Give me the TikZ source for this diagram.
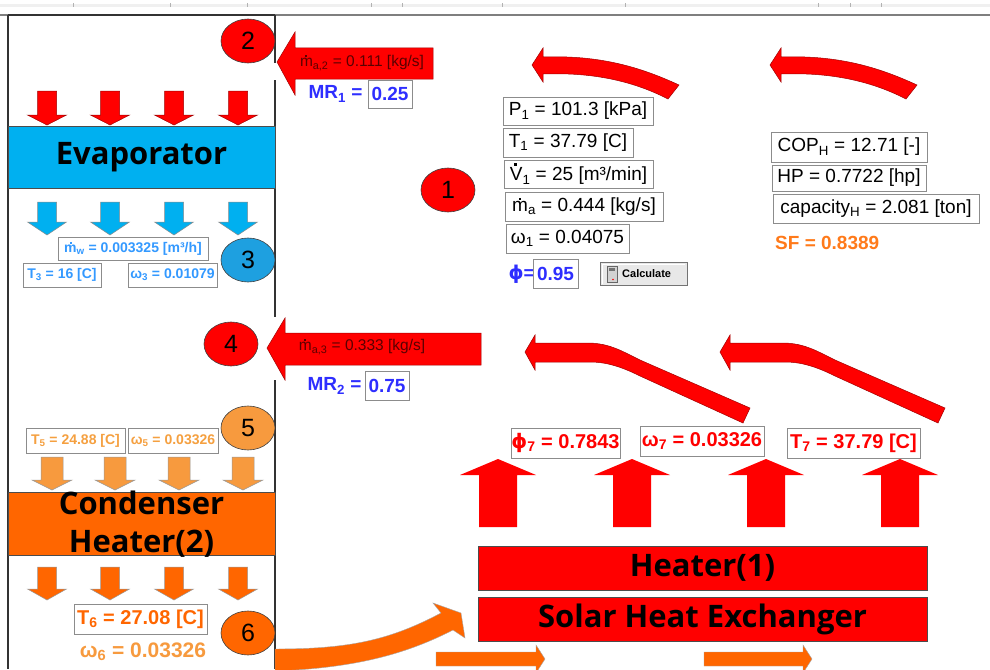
\documentclass[tikz,border=0pt]{standalone}
\usepackage{fontspec}
\setmainfont{Liberation Sans}
\newfontfamily\osans{Open Sans}
\newfontfamily\djv{DejaVu Sans}
\usetikzlibrary{shapes.geometric}
\definecolor{cred}{HTML}{FF0000}
\definecolor{redline}{HTML}{A00000}
\definecolor{ccyan}{HTML}{00B0F0}
\definecolor{cblue3}{HTML}{1EA0E0}
\definecolor{lorange}{HTML}{F79A3E}
\definecolor{lotext}{HTML}{F5A040}
\definecolor{dorange}{HTML}{FF6600}
\definecolor{sforange}{HTML}{FF7A1A}
\definecolor{lblue}{HTML}{3399FF}
\definecolor{mrblue}{HTML}{2E2EFF}
\definecolor{darkred}{HTML}{5A0000}
\definecolor{framegray}{HTML}{7F7F7F}
\definecolor{boxgray}{HTML}{8C8C8C}
\newcommand\mdot{m\llap{\raisebox{0.6em}{\rule{0.13em}{0.13em}}\kern0.35em}}
\newcommand\Vdot{V\llap{\raisebox{0.8em}{\rule{0.13em}{0.13em}}\kern0.31em}}
\begin{document}
\begin{tikzpicture}[x=1pt,y=-1pt,
  numcirc/.style={ellipse, draw=black!75, line width=0.6pt, minimum width=54pt, minimum height=44pt, inner sep=0pt, font=\fontsize{25}{25}\selectfont},
  vbox/.style={draw=boxgray, line width=0.9pt, fill=white, inner sep=0pt, font=\fontsize{19}{19}\selectfont},
  sbox/.style={draw=boxgray, line width=0.8pt, fill=white, inner sep=0pt, font=\bfseries\fontsize{14}{14}\selectfont},
  rbox/.style={draw=boxgray, line width=0.8pt, fill=white, inner sep=0pt, text=cred, font=\bfseries\fontsize{20}{20}\selectfont},
  band/.style={draw=black!70, line width=0.6pt, inner sep=0pt, font=\osans\bfseries\fontsize{31}{31}\selectfont},
  rarr/.style={fill=cred, draw=redline, line width=0.5pt},
  arrlab/.style={font=\fontsize{15.5}{15.5}\selectfont, text=darkred},
  mrlab/.style={anchor=west, font=\bfseries\fontsize{19}{19}\selectfont, text=mrblue}]
\useasboundingbox (0,0) rectangle (990,669);
\clip (0,0) rectangle (990,669);
\fill[white] (0,0) rectangle (990,669);
% spreadsheet header strip
\fill[gray!12] (0,4) rectangle (990,7);
\foreach \tx in {73,170,247,371,402,502,625,818,850,881}
  \draw[gray!60, line width=0.6pt] (\tx,3.5) -- (\tx,7.5);
\draw[framegray, line width=2pt] (0,15) -- (990,15);
% left frame
\draw[black!80, line width=1.2pt] (8,15) -- (275,15);
\draw[black!80, line width=1.2pt] (8,15) -- (8,669);
\draw[black!80, line width=1.2pt] (275,15) -- (275,63);
\draw[black!80, line width=1.2pt] (275,80) -- (275,317);
\draw[black!80, line width=1.2pt] (275,380) -- (275,669);

% evaporator
\foreach \cx in {47,110,174,238}
  \filldraw[rarr] ({\cx-9.5},91) -- ({\cx+9.5},91) -- ({\cx+9.5},115) -- ({\cx+19.5},115) -- (\cx,125) -- ({\cx-19.5},115) -- ({\cx-9.5},115) -- cycle;
\node[band, fill=ccyan, minimum width=267pt, minimum height=62pt] (evap) at (141.5,157) {Evaporator};
\foreach \cx in {47,110,174,238}
  \filldraw[fill=ccyan, draw=black!45, line width=0.5pt] ({\cx-9.5},202) -- ({\cx+9.5},202) -- ({\cx+9.5},222) -- ({\cx+19.5},222) -- (\cx,235) -- ({\cx-19.5},222) -- ({\cx-9.5},222) -- cycle;
\node[sbox, text=lblue, minimum width=150pt, minimum height=23pt] (mw) at (133,248.5) {\mdot\textsubscript{w} = 0.003325 [m³/h]};
\node[sbox, text=lblue, minimum width=78pt, minimum height=24pt] (t3) at (62,275) {T\textsubscript{3} = 16 [C]};
\node[sbox, text=lblue, minimum width=89pt, minimum height=24pt] (w3) at (172.5,275) {ω\textsubscript{3} = 0.01079};
\node[numcirc, fill=cblue3] (c3) at (248,260) {3};

% circle 2 and arrow 2
\node[numcirc, fill=cred] (c2) at (248,41) {2};
\filldraw[rarr] (277,62) -- (295,32) -- (295,48) -- (433,48) -- (433,79) -- (295,79) -- (295,95) -- cycle;
\node[arrlab] (lab2) at (362,63) {\mdot\textsubscript{a,2} = 0.111 [kg/s]};
\node[mrlab] (mr1) at (305,94) {MR\textsubscript{1} =};
\node[vbox, minimum width=44pt, minimum height=28pt, text=mrblue, font=\bfseries\fontsize{19}{19}\selectfont] (mr1v) at (390,94) {0.25};

% circle 1
\node[numcirc, fill=cred] (c1) at (448,190) {1};

% upper curved arrows
\foreach \sx in {0,238}
  \filldraw[rarr] ({532+\sx},65) -- ({543+\sx},48) -- ({543+\sx},57) .. controls ({600+\sx},55) and ({640+\sx},67) .. ({679+\sx},85) -- ({668+\sx},99) .. controls ({635+\sx},82) and ({595+\sx},72) .. ({543+\sx},74) -- ({543+\sx},82) -- cycle;

% state 1 boxes
\node[vbox, minimum width=150pt, minimum height=28pt] (p1) at (578,111) {P\textsubscript{1} = 101.3 [kPa]};
\node[vbox, minimum width=130pt, minimum height=29pt] (t1) at (568,142.5) {T\textsubscript{1} = 37.79 [C]};
\node[vbox, minimum width=149pt, minimum height=28pt] (v1) at (578.5,174) {\Vdot\textsubscript{1} = 25 [m³/min]};
\node[vbox, minimum width=158pt, minimum height=29pt] (ma) at (584,206.5) {\mdot\textsubscript{a} = 0.444 [kg/s]};
\node[vbox, minimum width=123pt, minimum height=29pt] (w1) at (567.5,238.5) {ω\textsubscript{1} = 0.04075};
\node[anchor=west, font=\bfseries\fontsize{19}{19}\selectfont, text=mrblue] (phil) at (505,274) {{\djv\bfseries ϕ}=};
\node[vbox, minimum width=45pt, minimum height=29pt, text=mrblue, font=\bfseries\fontsize{19}{19}\selectfont] (phiv) at (555.5,273.5) {0.95};
% calculate button
\node[draw=black!55, fill=gray!18, line width=0.8pt, minimum width=87pt, minimum height=23pt, inner sep=0pt] (calc) at (643.5,273.5) {};
\draw[white, line width=0.8pt] (602,284) -- (602,264) -- (685,264);
\draw[fill=gray!35, draw=black!60, line width=0.5pt] (607,266) rectangle (617,282);
\fill[black!55] (609,268) rectangle (615,271);
\fill[red] (613,279.5) circle (0.9);
\node[anchor=west, font=\bfseries\fontsize{11}{11}\selectfont, inner sep=0pt] (calct) at (622,274) {Calculate};

% right column
\node[vbox, minimum width=156pt, minimum height=30pt] (cop) at (849,147) {COP\textsubscript{H} = 12.71 [-]};
\node[vbox, minimum width=154pt, minimum height=26pt] (hp) at (849,178) {HP = 0.7722 [hp]};
\node[vbox, minimum width=206pt, minimum height=29pt] (cap) at (876,208.5) {capacity\textsubscript{H} = 2.081 [ton]};
\node[anchor=west, inner sep=0pt, font=\bfseries\fontsize{19}{19}\selectfont, text=sforange] (sf) at (775,243) {SF = 0.8389};

% circle 4 and arrow 4
\node[numcirc, fill=cred] (c4) at (231,344) {4};
\filldraw[rarr] (267,348) -- (285,318) -- (285,333) -- (481,333) -- (481,365) -- (285,365) -- (285,380) -- cycle;
\node[arrlab] (lab4) at (362,347) {\mdot\textsubscript{a,3} = 0.333 [kg/s]};
\node[mrlab] (mr2) at (304,386) {MR\textsubscript{2} =};
\node[vbox, minimum width=44pt, minimum height=29pt, text=mrblue, font=\bfseries\fontsize{19}{19}\selectfont] (mr2v) at (387,385.5) {0.75};

% lower curved arrows
\foreach \sx in {0,195}
  \filldraw[rarr] ({525+\sx},352) -- ({535+\sx},335) -- ({535+\sx},343) -- ({590+\sx},343) .. controls ({610+\sx},344) and ({620+\sx},350) .. ({640+\sx},360) -- ({750+\sx},408) -- ({743+\sx},423) -- ({640+\sx},376) .. controls ({620+\sx},366) and ({605+\sx},362) .. ({590+\sx},362) -- ({535+\sx},362) -- ({535+\sx},370) -- cycle;

% state 7 boxes
\node[rbox, minimum width=109pt, minimum height=30pt] (phi7) at (565.5,443) {{\djv\bfseries ϕ}\textsubscript{7} = 0.7843};
\node[rbox, minimum width=124pt, minimum height=30pt] (w7) at (702,441) {ω\textsubscript{7} = 0.03326};
\node[rbox, minimum width=133pt, minimum height=30pt] (t7) at (853.5,443) {T\textsubscript{7} = 37.79 [C]};

% up arrows
\foreach \cx in {498,632,766,900}
  \fill[cred] ({\cx-19},527) -- ({\cx+19},527) -- ({\cx+19},475) -- ({\cx+38},475) -- (\cx,459) -- ({\cx-38},475) -- ({\cx-19},475) -- cycle;

% heater(1) and solar
\node[band, fill=cred, minimum width=449pt, minimum height=44pt] (heat1) at (702.5,568) {Heater(1)};
\node[band, fill=cred, minimum width=449pt, minimum height=44pt] (solar) at (702.5,619) {Solar Heat Exchanger};

% condenser section
\node[numcirc, fill=lorange] (c5) at (248,428) {5};
\node[sbox, text=lotext, minimum width=99pt, minimum height=25pt] (t5) at (75.5,440.5) {T\textsubscript{5} = 24.88 [C]};
\node[sbox, text=lotext, minimum width=90pt, minimum height=25pt] (w5) at (173,440.5) {ω\textsubscript{5} = 0.03326};
\foreach \cx in {52,115,179,243}
  \filldraw[fill=lorange, draw=black!40, line width=0.5pt] ({\cx-11},457) -- ({\cx+11},457) -- ({\cx+11},480) -- ({\cx+20},480) -- (\cx,490) -- ({\cx-20},480) -- ({\cx-11},480) -- cycle;
\node[band, fill=dorange, minimum width=267pt, minimum height=63pt] (cond) at (141.5,523.5) {};
\node[font=\osans\bfseries\fontsize{31}{38}\selectfont, align=center, inner sep=0pt] (condt) at (141.5,524) {Condenser\\Heater(2)};
\foreach \cx in {47,110,174,238}
  \filldraw[fill=dorange, draw=black!40, line width=0.5pt] ({\cx-9.5},567) -- ({\cx+9.5},567) -- ({\cx+9.5},589) -- ({\cx+19.5},589) -- (\cx,600) -- ({\cx-19.5},589) -- ({\cx-9.5},589) -- cycle;
\node[draw=boxgray, line width=0.8pt, fill=white, inner sep=0pt, minimum width=133pt, minimum height=30pt, text=dorange, font=\bfseries\fontsize{20}{20}\selectfont] (t6) at (140.5,619) {T\textsubscript{6} = 27.08 [C]};
\node[text=lorange, font=\bfseries\fontsize{21}{21}\selectfont, inner sep=0pt] (w6) at (143,652) {ω\textsubscript{6} = 0.03326};
\node[numcirc, fill=dorange] (c6) at (248,633) {6};

% orange curved arrow and straight arrows
\filldraw[fill=dorange, draw=black!35, line width=0.4pt] (275,649) .. controls (350,649) and (390,640) .. (441,613) -- (433,603) -- (461,613) -- (465,638) -- (453,630) .. controls (410,652) and (360,668) .. (275,671) -- cycle;
\foreach \ax/\bx in {436/536, 704/803}
  \filldraw[fill=dorange, draw=black!35, line width=0.4pt] (\ax,652) -- (\bx,652) -- (\bx,645) -- ({\bx+9},659) -- (\bx,673) -- (\bx,666) -- (\ax,666) -- cycle;
\end{tikzpicture}
\end{document}
